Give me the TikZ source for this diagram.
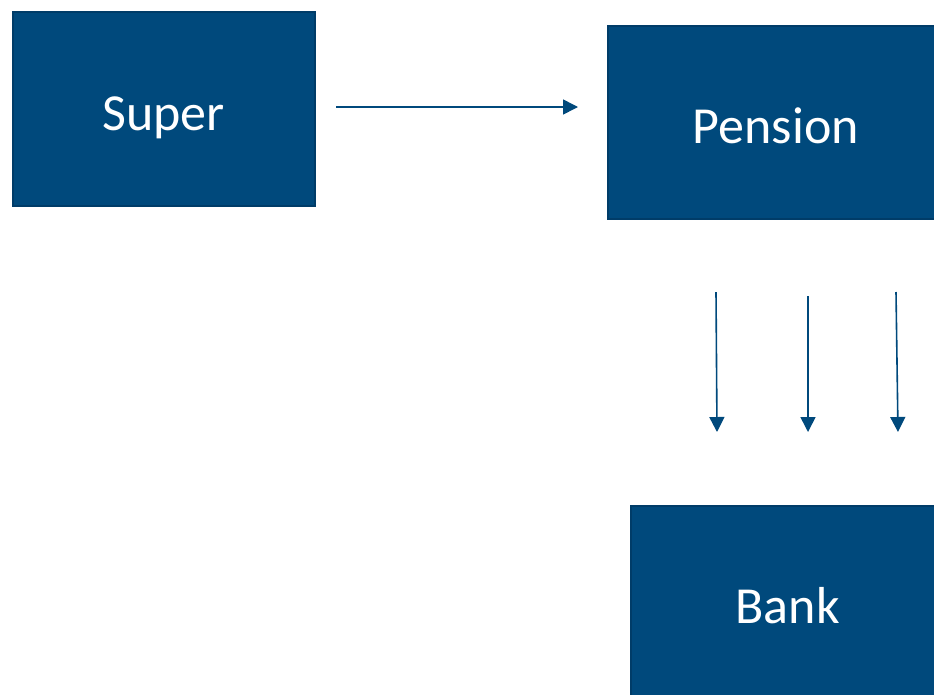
\documentclass[tikz,border=0pt]{standalone}
\usepackage{fontspec}
\setmainfont{Carlito}
\usetikzlibrary{arrows.meta}
\definecolor{boxblue}{RGB}{0,73,124}
\definecolor{boxedge}{RGB}{0,60,104}
\newcommand{\boxtext}[2]{\smash{\raisebox{#1}{#2}}}
\begin{document}
\begin{tikzpicture}[x=1pt,y=-1pt,
  blockbox/.style={fill=boxblue,draw=boxedge,line width=1.5pt,text=white,
    font=\fontsize{52}{62}\selectfont,inner sep=0pt,anchor=north west},
  flow/.style={draw=boxblue,line width=1.6pt,-{Triangle[length=15pt,width=15pt]}}]
\useasboundingbox (0,0) rectangle (934,694);
\clip (0,0) rectangle (934,694);
\node[blockbox,minimum width=302pt,minimum height=194pt] (super) at (12,11) {\boxtext{-21.7pt}{Super}};
\node[blockbox,minimum width=336pt,minimum height=193pt] (pension) at (607,25) {\boxtext{-21.7pt}{Pension}};
\node[blockbox,minimum width=314pt,minimum height=202pt] (bank) at (630,505) {\boxtext{-16.7pt}{Bank}};
\coordinate (h1) at (336,107);
\coordinate (h2) at (578,107);
\coordinate (d1s) at (716,292);
\coordinate (d1e) at (717,432);
\coordinate (d2s) at (808,296);
\coordinate (d2e) at (808,432);
\coordinate (d3s) at (896,292);
\coordinate (d3e) at (898,432);
\draw[flow] (h1) -- (h2);
\draw[flow] (d1s) -- (d1e);
\draw[flow] (d2s) -- (d2e);
\draw[flow] (d3s) -- (d3e);
\end{tikzpicture}
\end{document}
